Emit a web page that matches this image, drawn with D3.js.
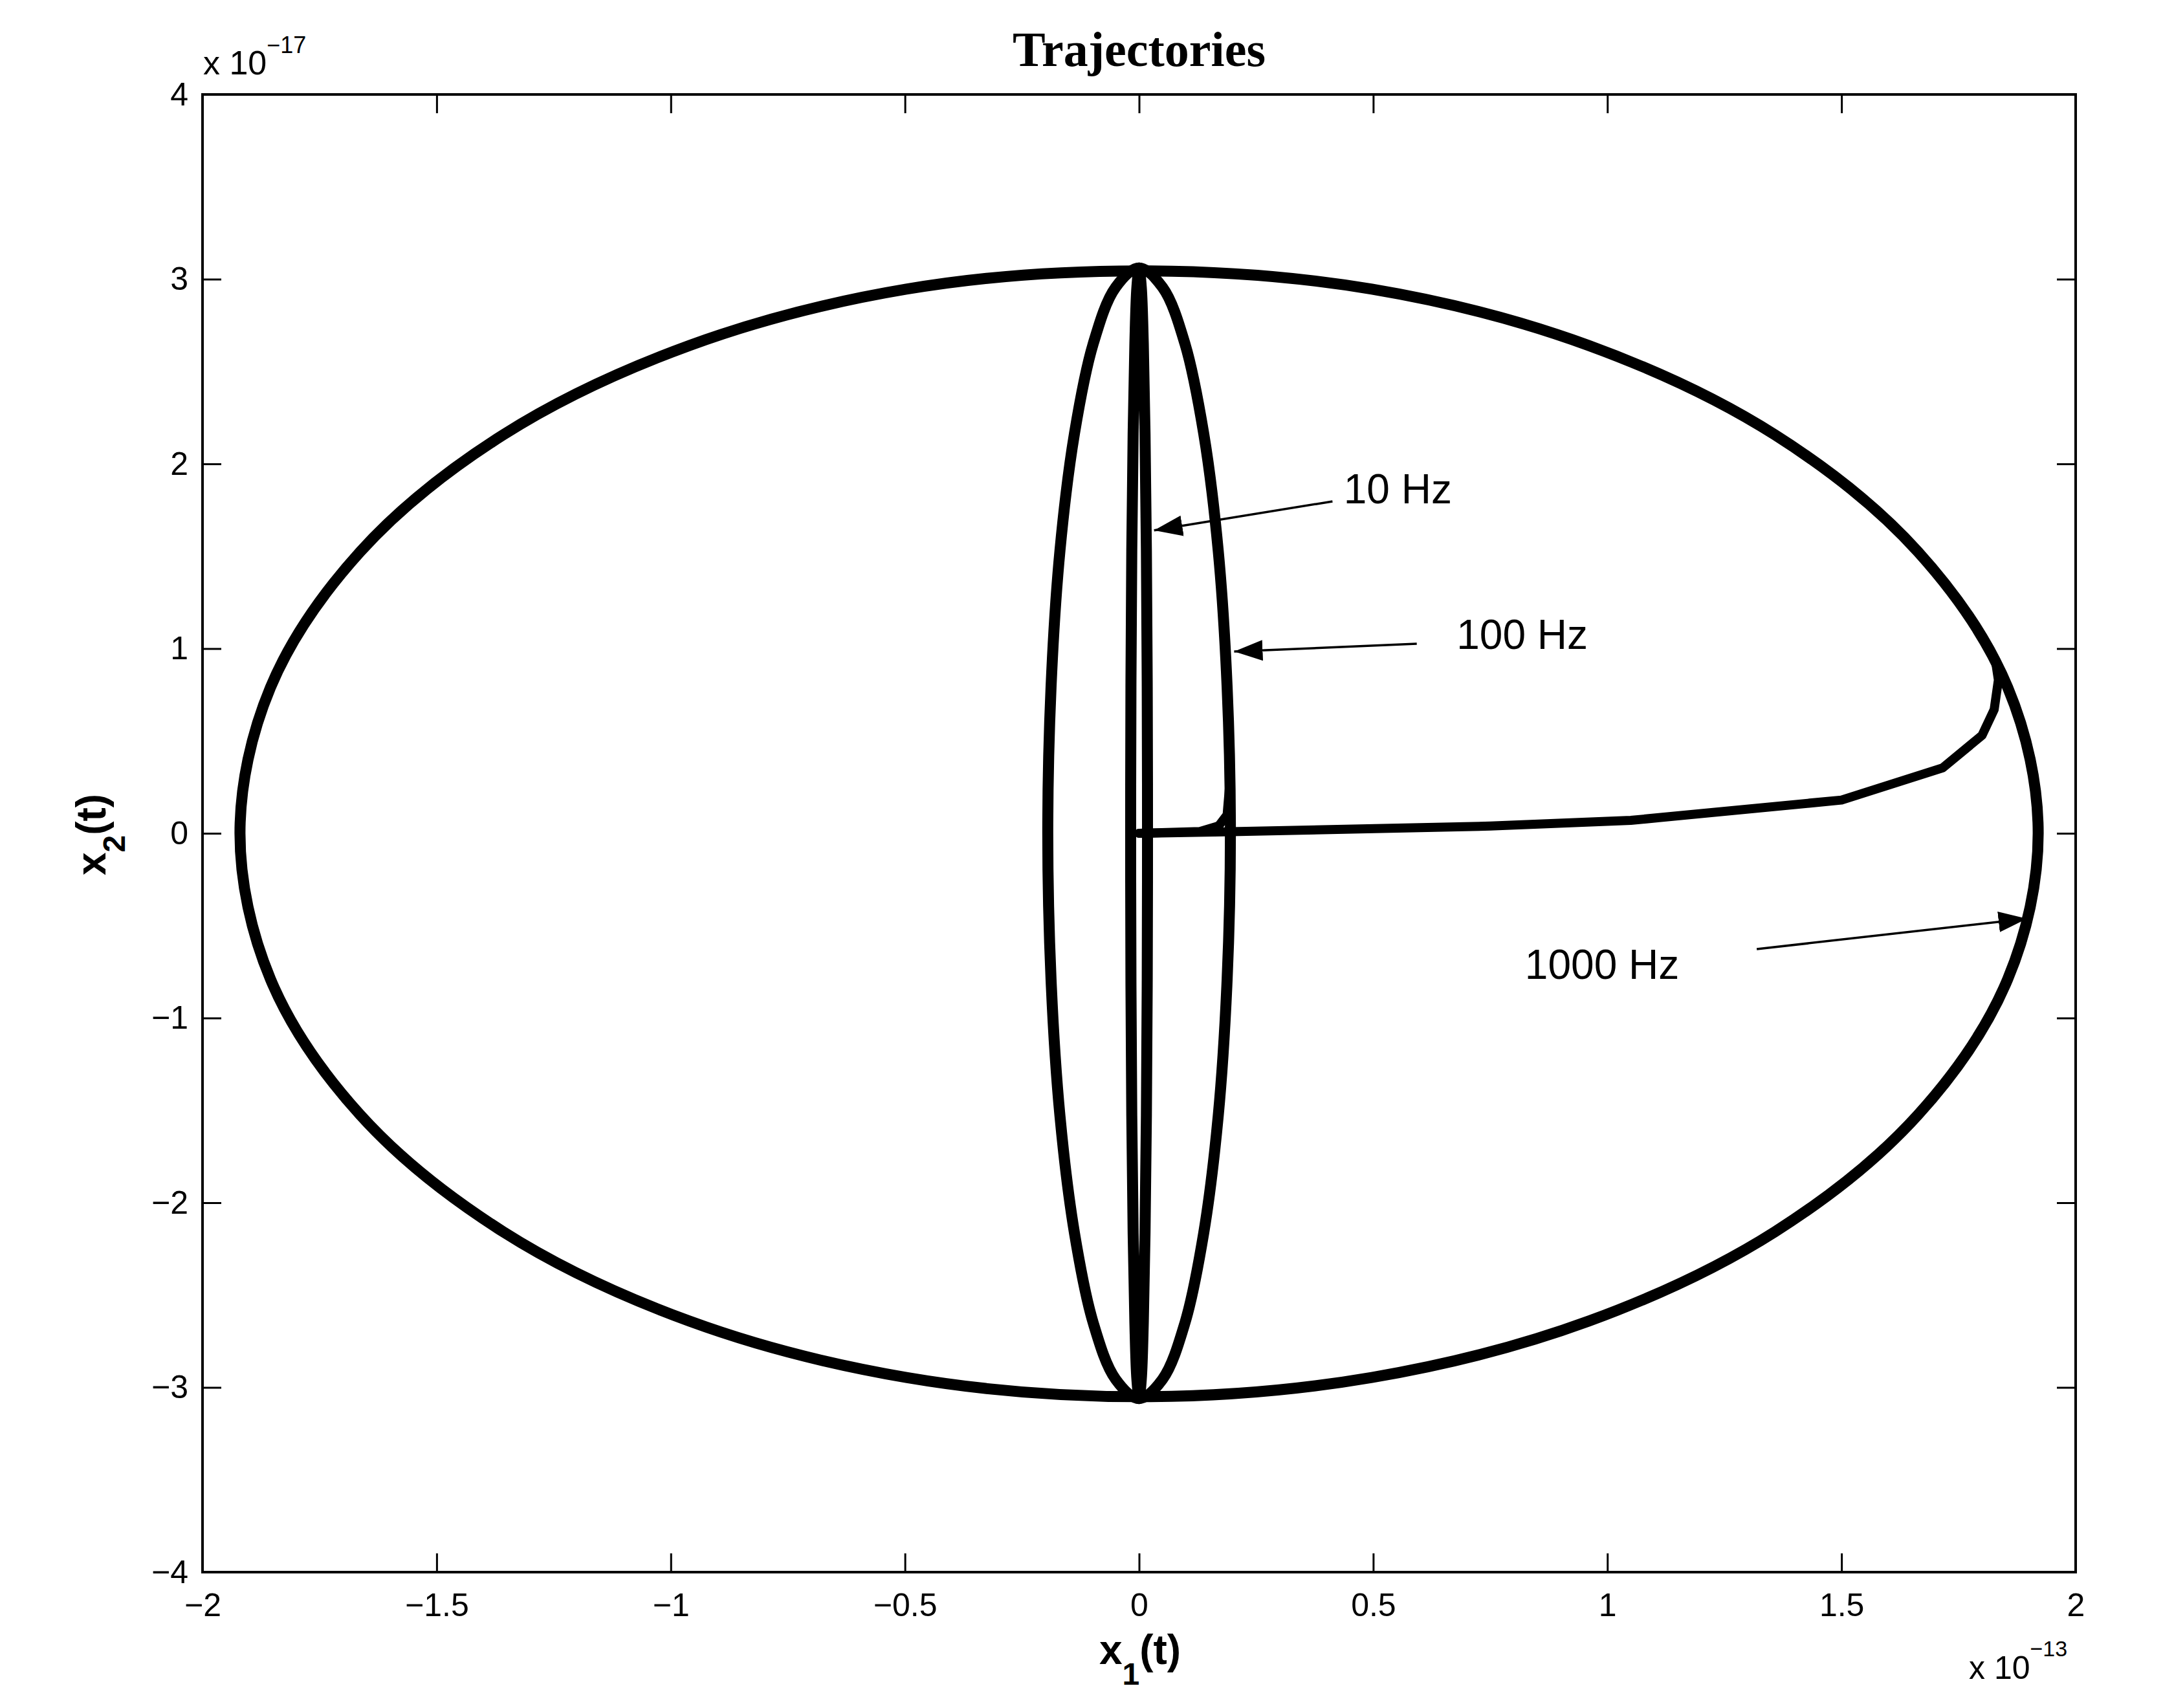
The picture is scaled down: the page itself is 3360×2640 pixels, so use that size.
<!DOCTYPE html>
<html><head><meta charset="utf-8">
<script src="https://cdn.jsdelivr.net/npm/d3@7"></script>
<style>body{margin:0;background:#fff}svg{display:block;background:#fff}</style>
</head><body>
<svg id="c" width="3360" height="2640"></svg>
<script>
// ---- data (x1 in units of 1e-13, x2 in units of 1e-17) ----
const xTicks = [-2, -1.5, -1, -0.5, 0, 0.5, 1, 1.5, 2];
const xTickLabels = ["−2", "−1.5", "−1", "−0.5", "0", "0.5", "1", "1.5", "2"];
const yTicks = [-4, -3, -2, -1, 0, 1, 2, 3, 4];
const yTickLabels = ["−4", "−3", "−2", "−1", "0", "1", "2", "3", "4"];

// 1000 Hz steady-state orbit
const orbit1000X = [1.92, 1.855, 1.663, 1.358, 0.96, 0.497, 0, -0.497, -0.96, -1.358, -1.663, -1.855,
                    -1.92, -1.855, -1.663, -1.358, -0.96, -0.497, 0, 0.497, 0.96, 1.358, 1.663, 1.855];
const orbit1000Y = [0, 0.789, 1.525, 2.157, 2.641, 2.946, 3.045, 2.946, 2.641, 2.157, 1.525, 0.789,
                    0, -0.789, -1.525, -2.157, -2.641, -2.946, -3.05, -2.946, -2.641, -2.157, -1.525, -0.789];
// 1000 Hz transient from the origin
const trans1000X = [0, 0.18, 0.75, 1.05, 1.50, 1.716, 1.80, 1.826, 1.835, 1.83];
const trans1000Y = [0, 0.008, 0.039, 0.07, 0.18, 0.354, 0.53, 0.67, 0.83, 0.914];

// 100 Hz steady-state orbit
const orbit100X = [0.195, 0.188, 0.169, 0.138, 0.098, 0.050, 0, -0.050, -0.098, -0.138, -0.169, -0.188,
                   -0.195, -0.188, -0.169, -0.138, -0.098, -0.050, 0, 0.050, 0.098, 0.138, 0.169, 0.188];
const orbit100Y = [0, 0.792, 1.53, 2.164, 2.65, 2.956, 3.06, 2.956, 2.65, 2.164, 1.53, 0.792,
                   0, -0.792, -1.53, -2.164, -2.65, -2.956, -3.06, -2.956, -2.65, -2.164, -1.53, -0.792];
// 100 Hz transient
const trans100X = [0, 0.13, 0.17, 0.188, 0.193];
const trans100Y = [0, 0.01, 0.04, 0.10, 0.25];

// 10 Hz steady-state orbit
const orbit10X = [0.018, 0.0174, 0.0156, 0.0127, 0.009, 0.0047, 0, -0.0047, -0.009, -0.0127, -0.0156, -0.0174,
                  -0.018, -0.0174, -0.0156, -0.0127, -0.009, -0.0047, 0, 0.0047, 0.009, 0.0127, 0.0156, 0.0174];
const orbit10Y = [0, 0.792, 1.53, 2.164, 2.65, 2.956, 3.06, 2.956, 2.65, 2.164, 1.53, 0.792,
                  0, -0.792, -1.53, -2.164, -2.65, -2.956, -3.06, -2.956, -2.65, -2.164, -1.53, -0.792];

// annotations
const annotLabels = ["10 Hz", "100 Hz", "1000 Hz"];
const annotTextX = [0.437, 0.678, 0.824];
const annotTextY = [1.786, 0.998, -0.788];
const arrowFromX = [0.413, 0.593, 1.319];
const arrowFromY = [1.797, 1.026, -0.627];
const arrowToX = [0.032, 0.203, 1.896];
const arrowToY = [1.640, 0.984, -0.462];

// ---- drawing ----
const W = 3360, H = 2640;
const M = {l: 313, r: 3208, t: 146, b: 2430};
const svg = d3.select("#c");
svg.append("rect").attr("width", W).attr("height", H).attr("fill", "#fff");

const x = d3.scaleLinear().domain([-2, 2]).range([M.l, M.r]);
const y = d3.scaleLinear().domain([-4, 4]).range([M.b, M.t]);

const SANS = "'Liberation Sans', Arial, Helvetica, sans-serif";
const SERIF = "'Liberation Serif', 'Times New Roman', serif";

function styleAxis(g, showText) {
  g.select(".domain").remove();
  g.selectAll(".tick line").attr("stroke", "#000").attr("stroke-width", 3);
  g.selectAll(".tick text").attr("fill", "#000").style("font-family", SANS).style("font-size", "50px");
  if (!showText) g.selectAll(".tick text").remove();
}

svg.append("g").attr("transform", `translate(0,${M.b})`)
  .call(d3.axisBottom(x).tickValues(xTicks).tickFormat((d, i) => xTickLabels[i])
        .tickSizeInner(-29).tickSizeOuter(0).tickPadding(32))
  .call(g => styleAxis(g, true));
svg.append("g").attr("transform", `translate(0,${M.t})`)
  .call(d3.axisTop(x).tickValues(xTicks).tickSizeInner(-29).tickSizeOuter(0))
  .call(g => styleAxis(g, false));
svg.append("g").attr("transform", `translate(${M.l},0)`)
  .call(d3.axisLeft(y).tickValues(yTicks).tickFormat((d, i) => yTickLabels[i])
        .tickSizeInner(-29).tickSizeOuter(0).tickPadding(22))
  .call(g => styleAxis(g, true));
svg.append("g").attr("transform", `translate(${M.r},0)`)
  .call(d3.axisRight(y).tickValues(yTicks).tickSizeInner(-29).tickSizeOuter(0))
  .call(g => styleAxis(g, false));

// trajectories
const closedLine = d3.line().x(d => x(d[0])).y(d => y(d[1])).curve(d3.curveCatmullRomClosed.alpha(0.5));
const openLine = d3.line().x(d => x(d[0])).y(d => y(d[1])).curve(d3.curveLinear);
const zip = (a, b) => a.map((v, i) => [v, b[i]]);

const plot = svg.append("g");
[[orbit1000X, orbit1000Y], [orbit100X, orbit100Y], [orbit10X, orbit10Y]].forEach(([xs, ys]) => {
  plot.append("path").attr("d", closedLine(zip(xs, ys)))
    .attr("fill", "none").attr("stroke", "#000").attr("stroke-width", 17).attr("stroke-linejoin", "round");
});
[[trans1000X, trans1000Y], [trans100X, trans100Y]].forEach(([xs, ys]) => {
  plot.append("path").attr("d", openLine(zip(xs, ys)))
    .attr("fill", "none").attr("stroke", "#000").attr("stroke-width", 14)
    .attr("stroke-linejoin", "round").attr("stroke-linecap", "round");
});

// frame
svg.append("rect").attr("x", M.l).attr("y", M.t).attr("width", M.r - M.l).attr("height", M.b - M.t)
  .attr("fill", "none").attr("stroke", "#000").attr("stroke-width", 4);

// arrows + labels
svg.append("defs").append("marker").attr("id", "ah")
  .attr("markerUnits", "userSpaceOnUse").attr("markerWidth", 46).attr("markerHeight", 32)
  .attr("refX", 44).attr("refY", 16).attr("orient", "auto")
  .append("path").attr("d", "M0,0 L44,16 L0,32 Z").attr("fill", "#000");

annotLabels.forEach((lab, i) => {
  svg.append("line")
    .attr("x1", x(arrowFromX[i])).attr("y1", y(arrowFromY[i]))
    .attr("x2", x(arrowToX[i])).attr("y2", y(arrowToY[i]))
    .attr("stroke", "#000").attr("stroke-width", 3.5).attr("marker-end", "url(#ah)");
  svg.append("text").attr("x", x(annotTextX[i])).attr("y", y(annotTextY[i]))
    .style("font-family", SANS).style("font-size", "64px").attr("fill", "#000").text(lab);
});

// title
svg.append("text").attr("x", (M.l + M.r) / 2).attr("y", 102).attr("text-anchor", "middle")
  .style("font-family", SERIF).style("font-weight", "bold").style("font-size", "76px").text("Trajectories");

// axis labels
const xl = svg.append("text").attr("x", 1762).attr("y", 2572).attr("text-anchor", "middle")
  .style("font-family", SANS).style("font-weight", "bold").style("font-size", "64px");
xl.append("tspan").text("x");
xl.append("tspan").attr("dy", 32).style("font-size", "48px").text("1");
xl.append("tspan").attr("dy", -32).text("(t)");

const yl = svg.append("text").attr("transform", "translate(163,1290) rotate(-90)").attr("text-anchor", "middle")
  .style("font-family", SANS).style("font-weight", "bold").style("font-size", "64px");
yl.append("tspan").text("x");
yl.append("tspan").attr("dy", 30).style("font-size", "48px").text("2");
yl.append("tspan").attr("dy", -30).text("(t)");

// exponent multipliers
const e1 = svg.append("text").attr("x", 314).attr("y", 115).style("font-family", SANS).style("font-size", "52px");
e1.append("tspan").text("x 10");
e1.append("tspan").attr("dy", -33).style("font-size", "36px").text("−17");
const e2 = svg.append("text").attr("x", 3043).attr("y", 2595).style("font-family", SANS).style("font-size", "50px");
e2.append("tspan").text("x 10");
e2.append("tspan").attr("dy", -35).style("font-size", "34px").text("−13");
</script>
</body></html>
